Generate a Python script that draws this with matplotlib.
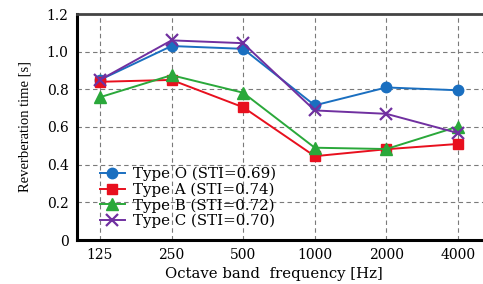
import numpy as np
import matplotlib.pyplot as plt

plt.rcParams['font.family'] = ['DejaVu Serif']

freqs = ["125", "250", "500", "1000", "2000", "4000"]
type_o = [0.85, 1.03, 1.015, 0.715, 0.81, 0.795]
type_a = [0.84, 0.85, 0.705, 0.445, 0.482, 0.51]
type_b = [0.758, 0.875, 0.782, 0.49, 0.483, 0.602]
type_c = [0.85, 1.06, 1.045, 0.688, 0.67, 0.568]
labels = ["Type O (STI=0.69)", "Type A (STI=0.74)", "Type B (STI=0.72)", "Type C (STI=0.70)"]

fig = plt.figure(figsize=(4.83, 2.84), dpi=100, facecolor='w')
ax = fig.add_axes([77/483, 44/284, 406/483, 226/284])

x = np.arange(len(freqs))
ax.plot(x, type_o, '-o', color='#1a6fc0', lw=1.4, ms=7.5, label=labels[0])
ax.plot(x, type_a, '-s', color='#e8101e', lw=1.4, ms=7, label=labels[1])
ax.plot(x, type_b, '-^', color='#2aa83a', lw=1.4, ms=8, label=labels[2])
ax.plot(x, type_c, '-x', color='#7030a0', lw=1.4, ms=9, mew=1.6, label=labels[3])

ax.set_xlim(-0.32, 5.35)
ax.set_ylim(0, 1.2)
ax.set_xticks(x)
ax.set_xticklabels(freqs)
ax.set_yticks([0, 0.2, 0.4, 0.6, 0.8, 1.0, 1.2])
ax.set_yticklabels(["0", "0.2", "0.4", "0.6", "0.8", "1.0", "1.2"])
ax.tick_params(length=0, labelsize=10, pad=6)
ax.grid(True, ls=(0, (4, 3)), color='#7a7a7a', lw=0.8)

ax.spines['right'].set_visible(False)
ax.spines['left'].set_linewidth(2.2)
ax.spines['bottom'].set_linewidth(2.2)
ax.spines['top'].set_linewidth(2)
ax.spines['top'].set_color('#444444')

ax.set_xlabel("Octave band  frequency [Hz]", fontsize=10.7, labelpad=4)
ax.xaxis.set_label_coords(0.484, -0.12)
ax.set_ylabel("Reverberation time [s]", fontsize=10.5, labelpad=11,
              family=['Liberation Serif', 'DejaVu Serif'])

ax.legend(loc='lower left', bbox_to_anchor=(0.03, 0.005), frameon=False,
          fontsize=10.8, handlelength=1.7, labelspacing=0.09, borderpad=0.2,
          handletextpad=0.5)

fig.savefig("out.png", dpi=100)
